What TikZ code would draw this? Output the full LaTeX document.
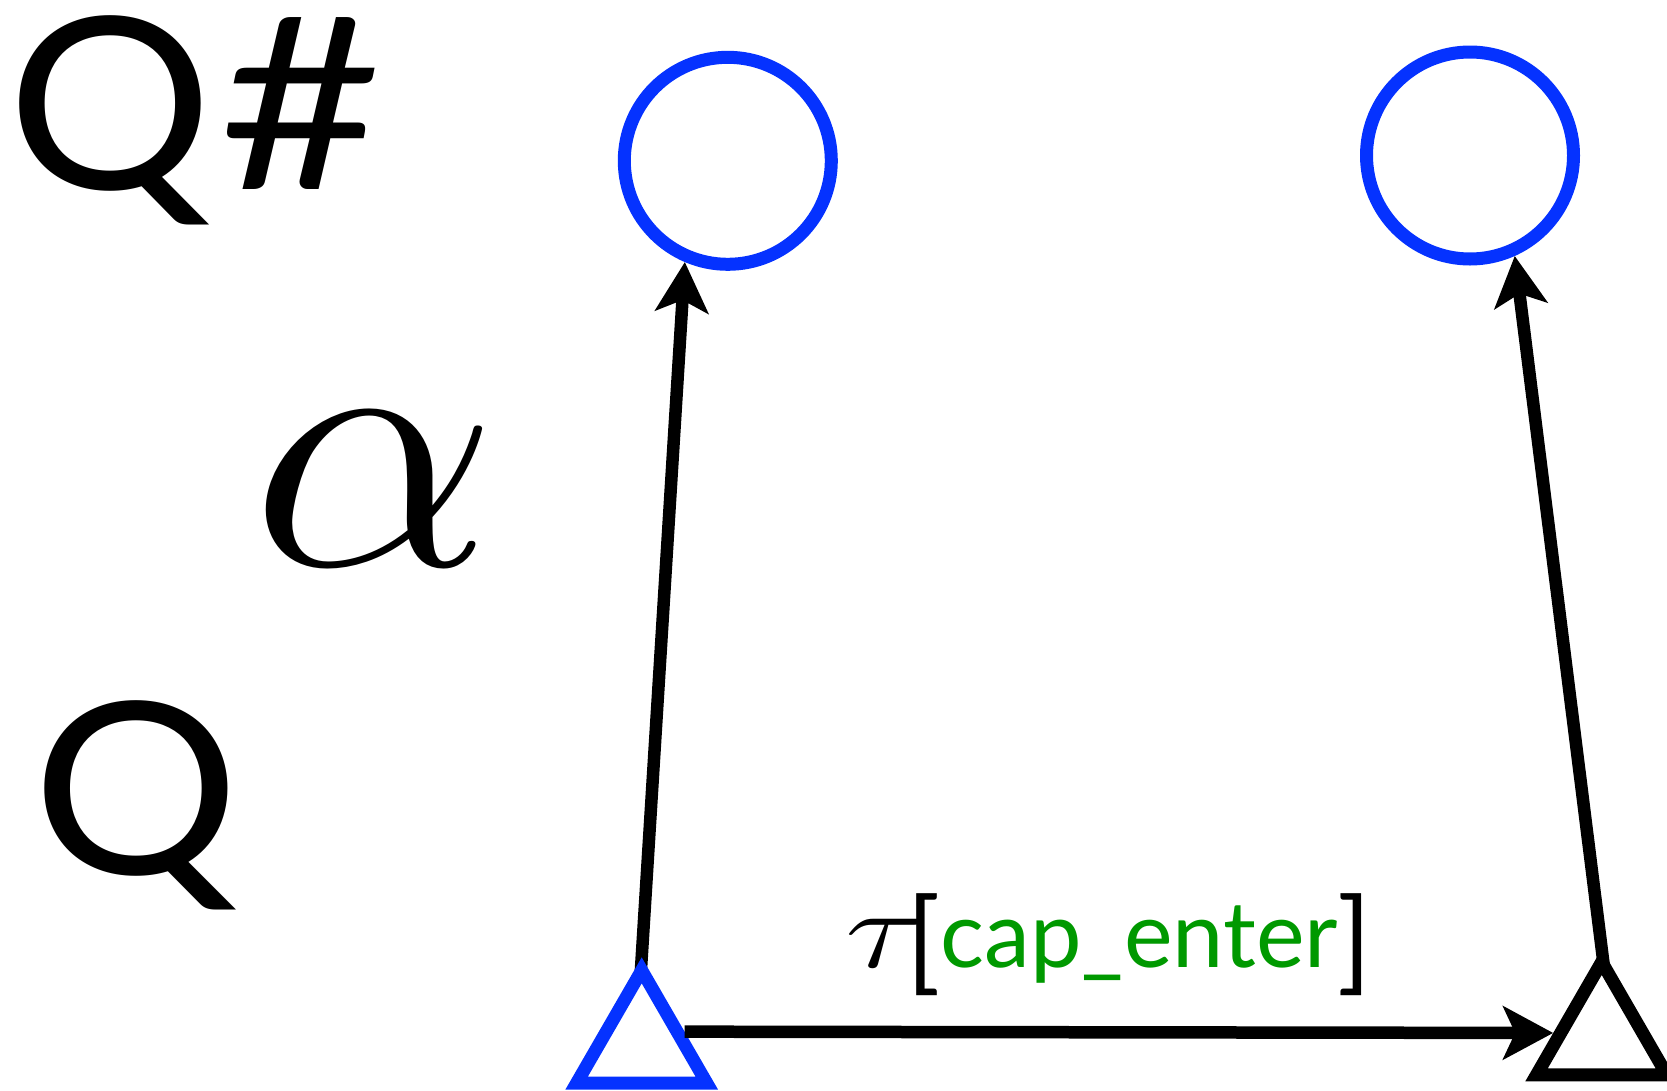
\RequirePackage{fix-cm}
\documentclass[tikz,border=0pt]{standalone}
\usepackage{fontspec}
\setmainfont{Lato}
\usetikzlibrary{arrows.meta,shapes.geometric}
\pgfdeclarelayer{bg}
\pgfsetlayers{bg,main}
\definecolor{qblue}{RGB}{5,50,255}
\definecolor{qgreen}{RGB}{0,153,0}
\begin{document}
\begin{tikzpicture}[x=1pt,y=-1pt,
  arr/.style={line width=12.5pt,-{Stealth[length=50pt,width=53pt,inset=12pt]}},
  ring/.style={circle,draw=qblue,line width=13pt,minimum size=207pt,inner sep=0pt},
  tri/.style={regular polygon,regular polygon sides=3,line width=13pt,minimum size=150.5pt,inner sep=0pt,fill=white},
  lbl/.style={anchor=base west,inner sep=0pt,outer sep=0pt}]
\useasboundingbox (0,0) rectangle (1667,1090);
% texts
\node[lbl] (qs) at (8,189) {\fontsize{240}{240}\selectfont \scalebox{1.07}[1]{Q}\hspace{6pt}\scalebox{1.17}[1]{\#}};
\node[lbl] (al) at (250,565) {\fontsize{355}{355}\selectfont \scalebox{1.11}[1]{$\alpha$}};
\node[lbl] (q) at (32,874) {\fontsize{240}{240}\selectfont \scalebox{1.08}[1]{Q}};
\node[lbl] (tl) at (845,967) {\scalebox{1.35}[1]{\fontsize{112}{112}\selectfont$\tau$}\hspace{-20pt}\raisebox{-12pt}{\fontsize{112}{112}\selectfont[}\fontsize{92}{92}\selectfont\textcolor{qgreen}{cap\_enter}\raisebox{-12pt}{\fontsize{112}{112}\selectfont]}};
% states
\node[ring] (c1) at (727.8,160.8) {};
\node[ring] (c2) at (1470,155.5) {};
\node[tri,draw=qblue] (t1) at (641.7,1045.6) {};
\node[tri,draw=black] (t2) at (1601.7,1037.2) {};
% connectors
\begin{pgfonlayer}{bg}
\draw[arr,shorten <=-25pt] (t1.corner 1) -- (c1.247.8);
\draw[arr,shorten <=-25pt] (t2.corner 1) -- (c2.-66);
\end{pgfonlayer}
\draw[arr] (t1.18.7) -- (t2.175);
\end{tikzpicture}
\end{document}
